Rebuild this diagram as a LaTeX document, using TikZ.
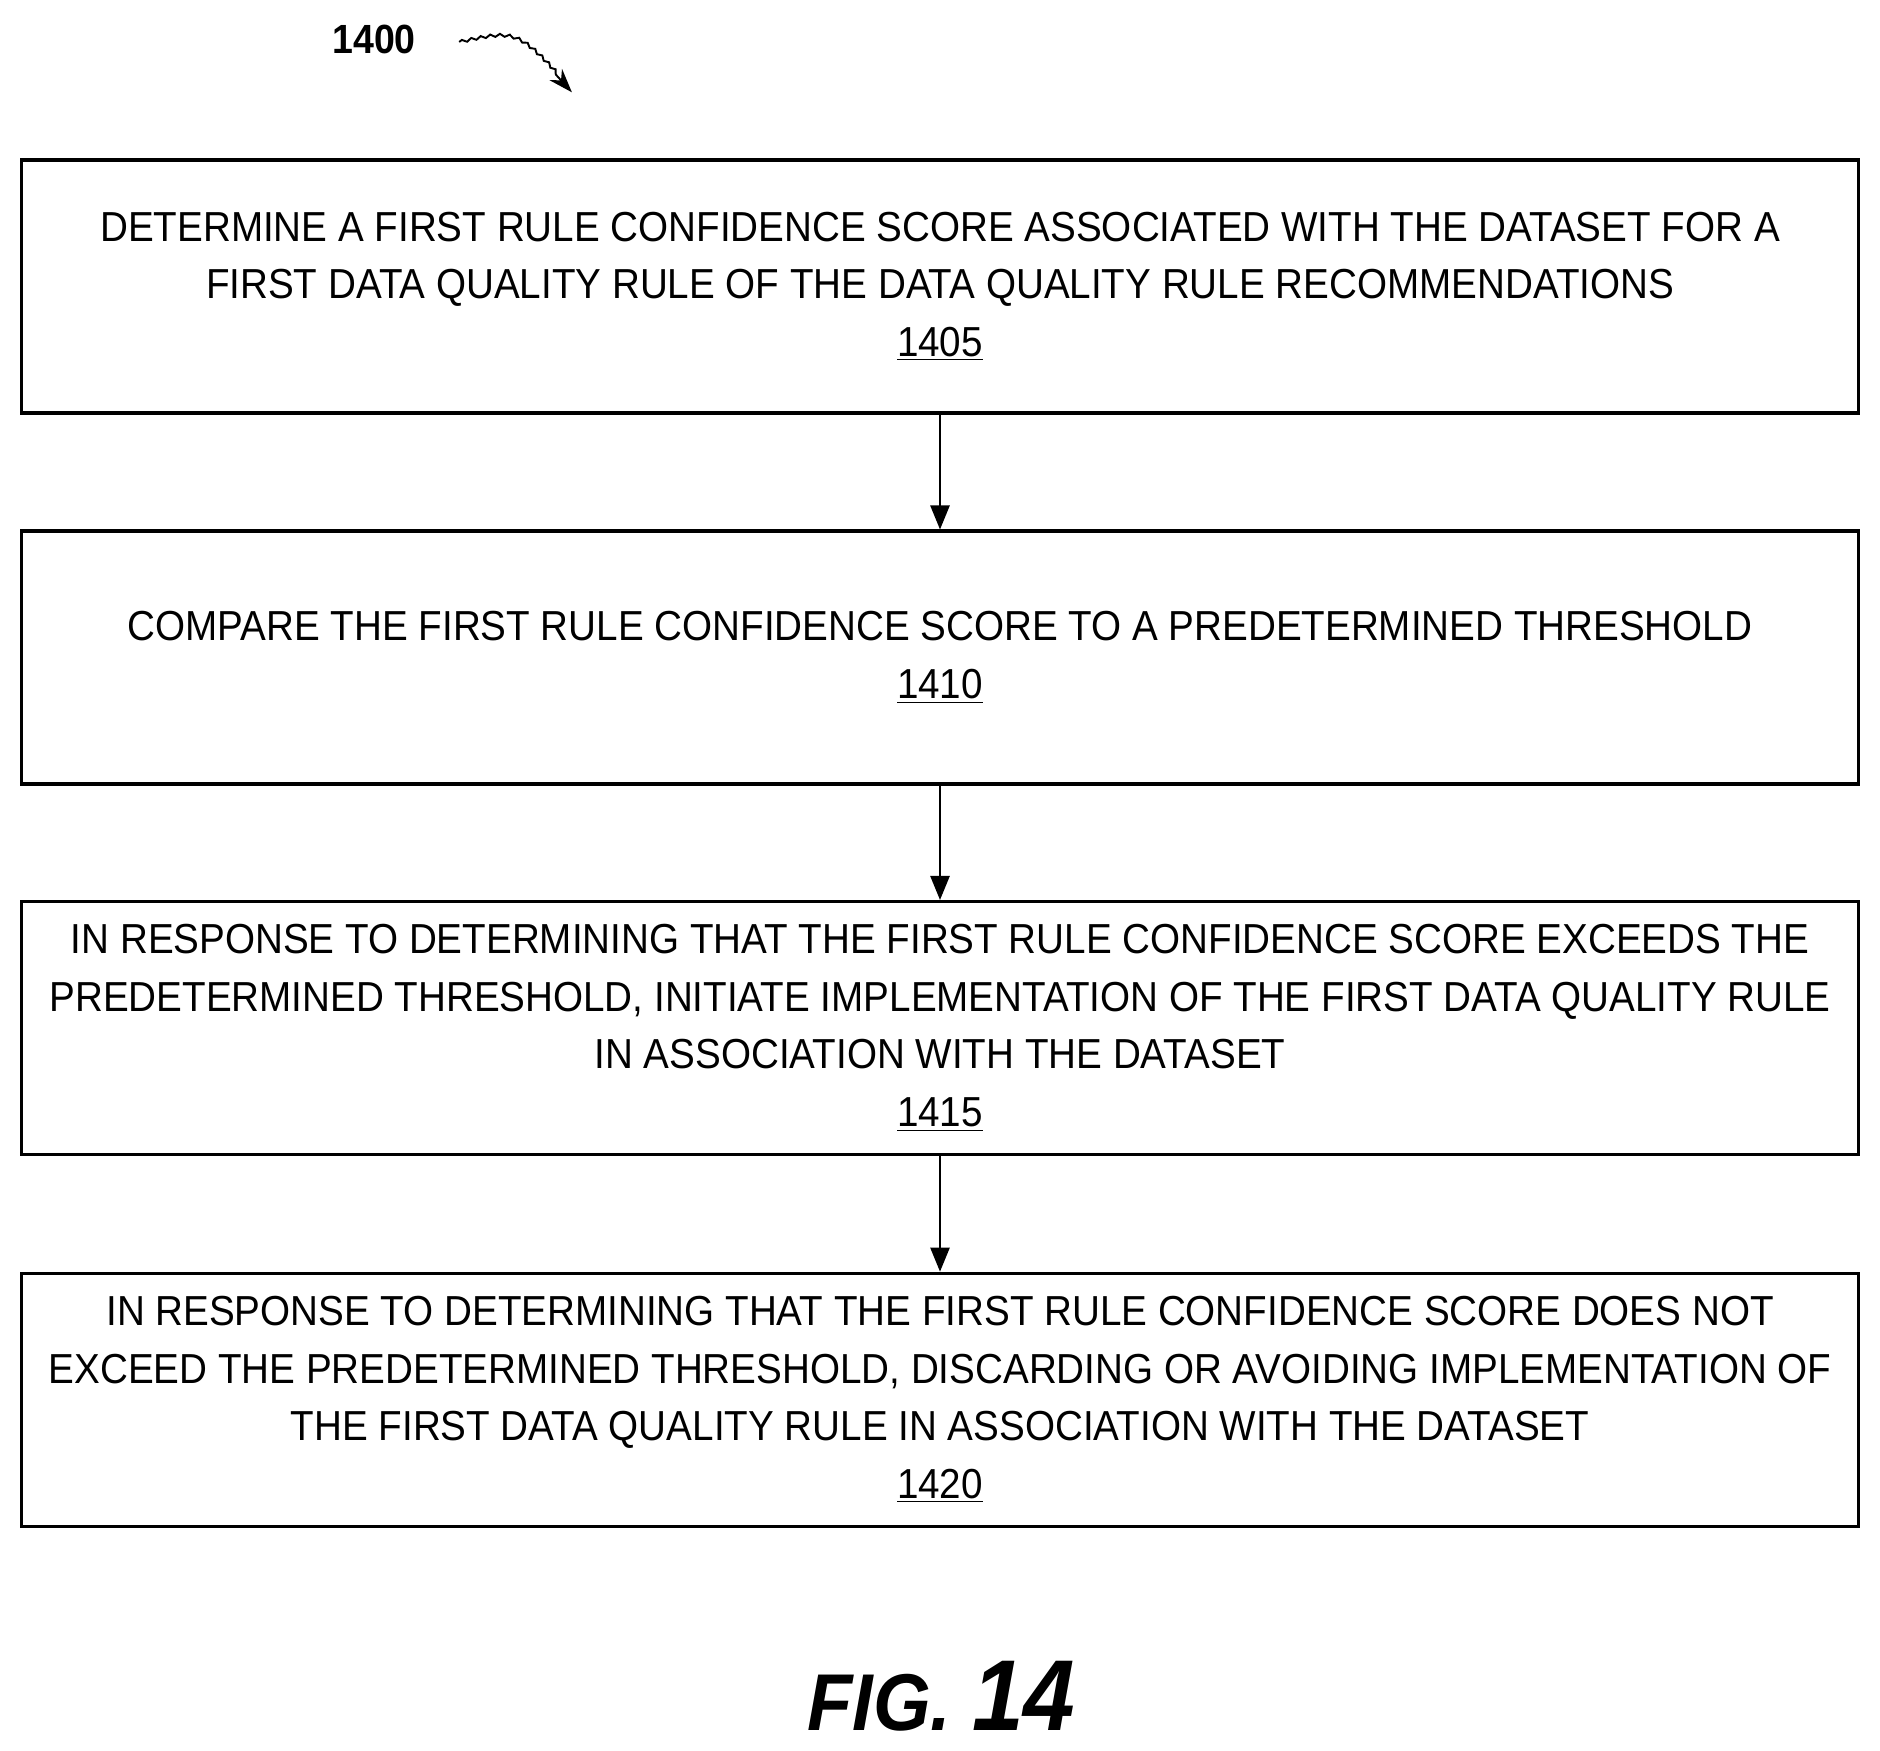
\documentclass[tikz,border=0pt]{standalone}
\usepackage{fontspec}
\setmainfont{Liberation Sans}[FakeStretch=0.92]
\usetikzlibrary{arrows.meta,decorations.pathmorphing}
\begin{document}
\begin{tikzpicture}[x=0.5pt,y=-0.5pt,
  box/.style={draw,line width=1.4pt,minimum width=766pt,minimum height=105.5pt,align=center,font=\fontsize{17.5}{24}\selectfont,inner sep=0pt},
  arr/.style={-{Triangle[length=10pt,width=8pt]},line width=0.8pt}]
\useasboundingbox (0,0) rectangle (1568,1460);
\node[box] (b1) at (784,239) {DETERMINE A FIRST RULE CONFIDENCE SCORE ASSOCIATED WITH THE DATASET FOR A\\FIRST DATA QUALITY RULE OF THE DATA QUALITY RULE RECOMMENDATIONS\\\underline{1405}};
\node[box] (b2) at (784,548.5) {COMPARE THE FIRST RULE CONFIDENCE SCORE TO A PREDETERMINED THRESHOLD\\\underline{1410}};
\node[box] (b3) at (784,857.5) {IN RESPONSE TO DETERMINING THAT THE FIRST RULE CONFIDENCE SCORE EXCEEDS THE\\PREDETERMINED THRESHOLD, INITIATE IMPLEMENTATION OF THE FIRST DATA QUALITY RULE\\IN ASSOCIATION WITH THE DATASET\\\underline{1415}};
\node[box] (b4) at (784,1167.5) {IN RESPONSE TO DETERMINING THAT THE FIRST RULE CONFIDENCE SCORE DOES NOT\\EXCEED THE PREDETERMINED THRESHOLD, DISCARDING OR AVOIDING IMPLEMENTATION OF\\THE FIRST DATA QUALITY RULE IN ASSOCIATION WITH THE DATASET\\\underline{1420}};
\draw[arr] (b1) -- (b2);
\draw[arr] (b2) -- (b3);
\draw[arr] (b3) -- (b4);
\node[font=\fontsize{17}{20}\selectfont\bfseries] (lab) at (312,33) {1400};
\coordinate (s) at (383,35);
\coordinate (e) at (477,77);
\draw[line width=0.8pt,-{Stealth[length=10pt,width=7pt]},decorate,decoration={snake,amplitude=0.6pt,segment length=4pt,post length=8pt}] (s) .. controls (430,25) .. (e);
\node[font=\fontsize{32}{34}\selectfont\bfseries\itshape,scale=1.05] (fig) at (785,1415) {FIG. \fontsize{40}{42}\selectfont 14};
\end{tikzpicture}
\end{document}
